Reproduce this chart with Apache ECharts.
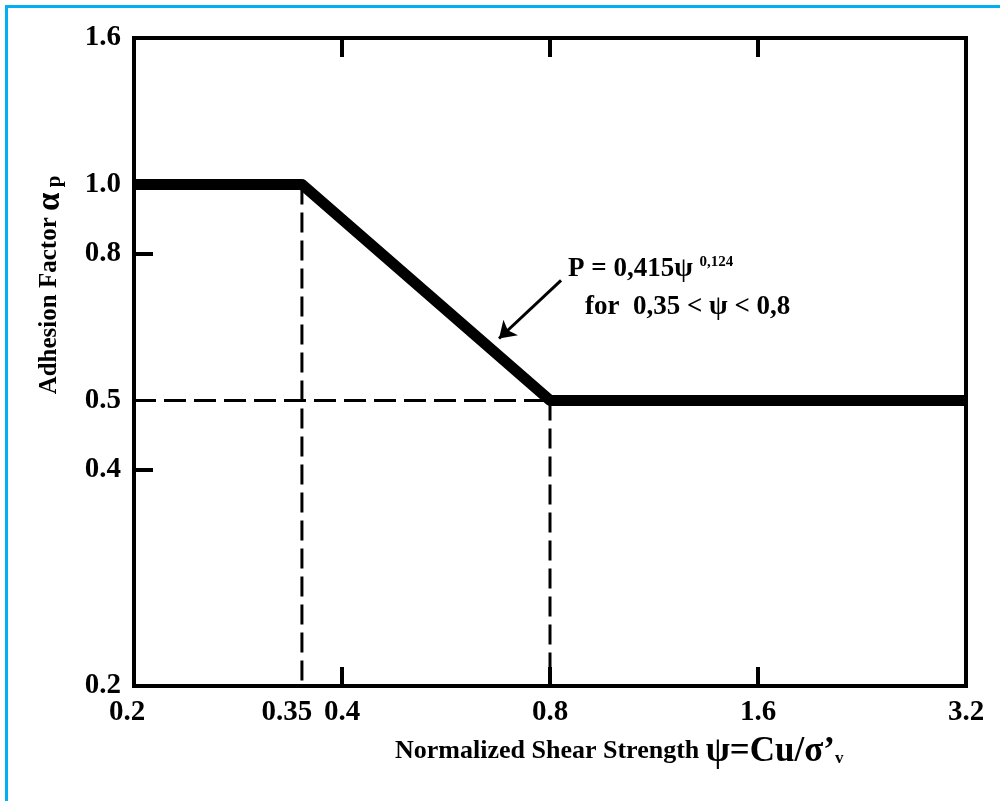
<!DOCTYPE html>
<html>
<head>
<meta charset="utf-8">
<script src="https://cdn.jsdelivr.net/npm/echarts@6/dist/echarts.min.js"></script>
<style>
  html, body { margin: 0; padding: 0; background: #fff; }
  #chart { position: absolute; left: 0; top: 0; width: 1000px; height: 801px; }
  #frame { position: absolute; left: 5px; top: 5px; width: 1000px; height: 800px;
           border-left: 3px solid #00b0f0; border-top: 3px solid #00b0f0; pointer-events: none; }
</style>
</head>
<body>
<div id="chart"></div>
<div id="frame"></div>
<script>
// Adhesion factor design curve (log–log)
const psi   = [0.2, 0.35, 0.8, 3.2];
const alpha = [1.0, 1.0, 0.5, 0.5];

// Dashed reference lines
const guidePsi035 = [[0.35, 1.0], [0.35, 0.2]];
const guideAlpha05 = [[0.2, 0.5], [0.8, 0.5]];
const guidePsi08 = [[0.8, 0.5], [0.8, 0.2]];

// Arrow pointing at the sloped segment
const arrowFrom = [0.83, 0.735];
const arrowTo   = [0.675, 0.61];

// Axis ticks and labels
const xTickLabels = [0.2, 0.35, 0.4, 0.8, 1.6, 3.2];
const xTickText   = ['0.2', '0.35', '0.4', '0.8', '1.6', '3.2'];
const xTickMarks  = [0.4, 0.8, 1.6];
const yTickLabels = [0.2, 0.4, 0.5, 0.8, 1.0, 1.6];
const yTickText   = ['0.2', '0.4', '0.5', '0.8', '1.0', '1.6'];
const yTickMarks  = [0.4, 0.8];

const serif = '"Liberation Serif", "Times New Roman", serif';

function pick(values, texts, v) {
  for (let i = 0; i < values.length; i++) {
    if (Math.abs(values[i] - v) < 1e-6) return texts[i];
  }
  return '';
}

const tickStyle = { show: true, inside: true, length: 19, lineStyle: { color: '#000', width: 4 } };
const labelFont = { color: '#000', fontFamily: serif, fontWeight: 'bold', fontSize: 29 };

const chart = echarts.init(document.getElementById('chart'));

const option = {
  animation: false,
  backgroundColor: '#fff',
  grid: {
    left: 134, right: 34, top: 38, bottom: 115,
    show: true, borderColor: '#000', borderWidth: 4, backgroundColor: 'transparent'
  },
  xAxis: [
    {
      type: 'log', logBase: 2, min: 0.2, max: 3.2, position: 'bottom',
      axisLine: { show: false }, splitLine: { show: false }, minorTick: { show: false },
      axisTick: Object.assign({}, tickStyle, { customValues: xTickMarks }),
      axisLabel: Object.assign({}, labelFont, {
        customValues: xTickLabels,
        margin: 12,
        formatter: function (v) {
          const t = pick(xTickLabels, xTickText, v);
          if (t === '0.35') return '{s|' + t + '}';
          if (t === '0.2') return '{f|' + t + '}';
          return t;
        },
        rich: {
          s: Object.assign({}, labelFont, { padding: [0, 30, 0, 0] }),
          f: Object.assign({}, labelFont, { padding: [0, 14, 0, 0] })
        }
      })
    },
    {
      type: 'log', logBase: 2, min: 0.2, max: 3.2, position: 'top',
      axisLine: { show: false }, splitLine: { show: false }, minorTick: { show: false },
      axisTick: Object.assign({}, tickStyle, { customValues: xTickMarks }),
      axisLabel: { show: false }
    }
  ],
  yAxis: [
    {
      type: 'log', logBase: 2, min: 0.2, max: 1.6, position: 'left',
      axisLine: { show: false }, splitLine: { show: false }, minorTick: { show: false },
      axisTick: Object.assign({}, tickStyle, { customValues: yTickMarks }),
      axisLabel: Object.assign({}, labelFont, {
        customValues: yTickLabels,
        margin: 13,
        formatter: function (v) { return pick(yTickLabels, yTickText, v); }
      })
    }
  ],
  series: [
    {
      name: 'design curve', type: 'line', xAxisIndex: 0, yAxisIndex: 0,
      data: psi.map((x, i) => [x, alpha[i]]),
      symbol: 'none', lineStyle: { color: '#000', width: 11, join: 'round' }, z: 5
    },
    {
      type: 'line', data: guidePsi035, symbol: 'none',
      lineStyle: { color: '#000', width: 3, type: [20, 8] }, z: 3
    },
    {
      type: 'line', data: guideAlpha05, symbol: 'none',
      lineStyle: { color: '#000', width: 3, type: [22, 8] }, z: 3
    },
    {
      type: 'line', data: guidePsi08, symbol: 'none',
      lineStyle: { color: '#000', width: 3, type: [20, 8] }, z: 3
    },
    {
      type: 'lines', coordinateSystem: 'cartesian2d',
      data: [{ coords: [arrowFrom, arrowTo] }],
      symbol: ['none', 'arrow'], symbolSize: [0, 16],
      lineStyle: { color: '#000', width: 3, opacity: 1 }, z: 6
    }
  ],
  graphic: [
    {
      type: 'text', left: 568, top: 255,
      style: {
        text: '{a|P = 0,415ψ }{b|0,124}',
        rich: {
          a: { fontFamily: serif, fontWeight: 'bold', fontSize: 27, fill: '#000' },
          b: { fontFamily: serif, fontWeight: 'bold', fontSize: 15, fill: '#000', verticalAlign: 'top', padding: [0, 0, 14, 0] }
        }
      }
    },
    {
      type: 'text', left: 585, top: 294,
      style: { text: 'for  0,35 < ψ < 0,8', fontFamily: serif, fontWeight: 'bold', fontSize: 27, fill: '#000' }
    },
    {
      type: 'text', x: 50, y: 285, rotation: Math.PI / 2,
      style: {
        text: '{a|Adhesion Factor }{b|α}{c| p}',
        align: 'center', verticalAlign: 'middle',
        rich: {
          a: { fontFamily: serif, fontWeight: 'bold', fontSize: 25, fill: '#000' },
          b: { fontFamily: serif, fontWeight: 'bold', fontSize: 33, fill: '#000' },
          c: { fontFamily: serif, fontWeight: 'bold', fontSize: 21, fill: '#000', padding: [9, 0, 0, 0] }
        }
      }
    },
    {
      type: 'text', left: 395, top: 734,
      style: {
        text: '{a|Normalized Shear Strength }{b|ψ=Cu/σ’}{c|v}',
        rich: {
          a: { fontFamily: serif, fontWeight: 'bold', fontSize: 26, fill: '#000' },
          b: { fontFamily: serif, fontWeight: 'bold', fontSize: 35, fill: '#000' },
          c: { fontFamily: serif, fontWeight: 'bold', fontSize: 17, fill: '#000', padding: [14, 0, 0, 0] }
        }
      }
    }
  ]
};

chart.setOption(option);
</script>
</body>
</html>
